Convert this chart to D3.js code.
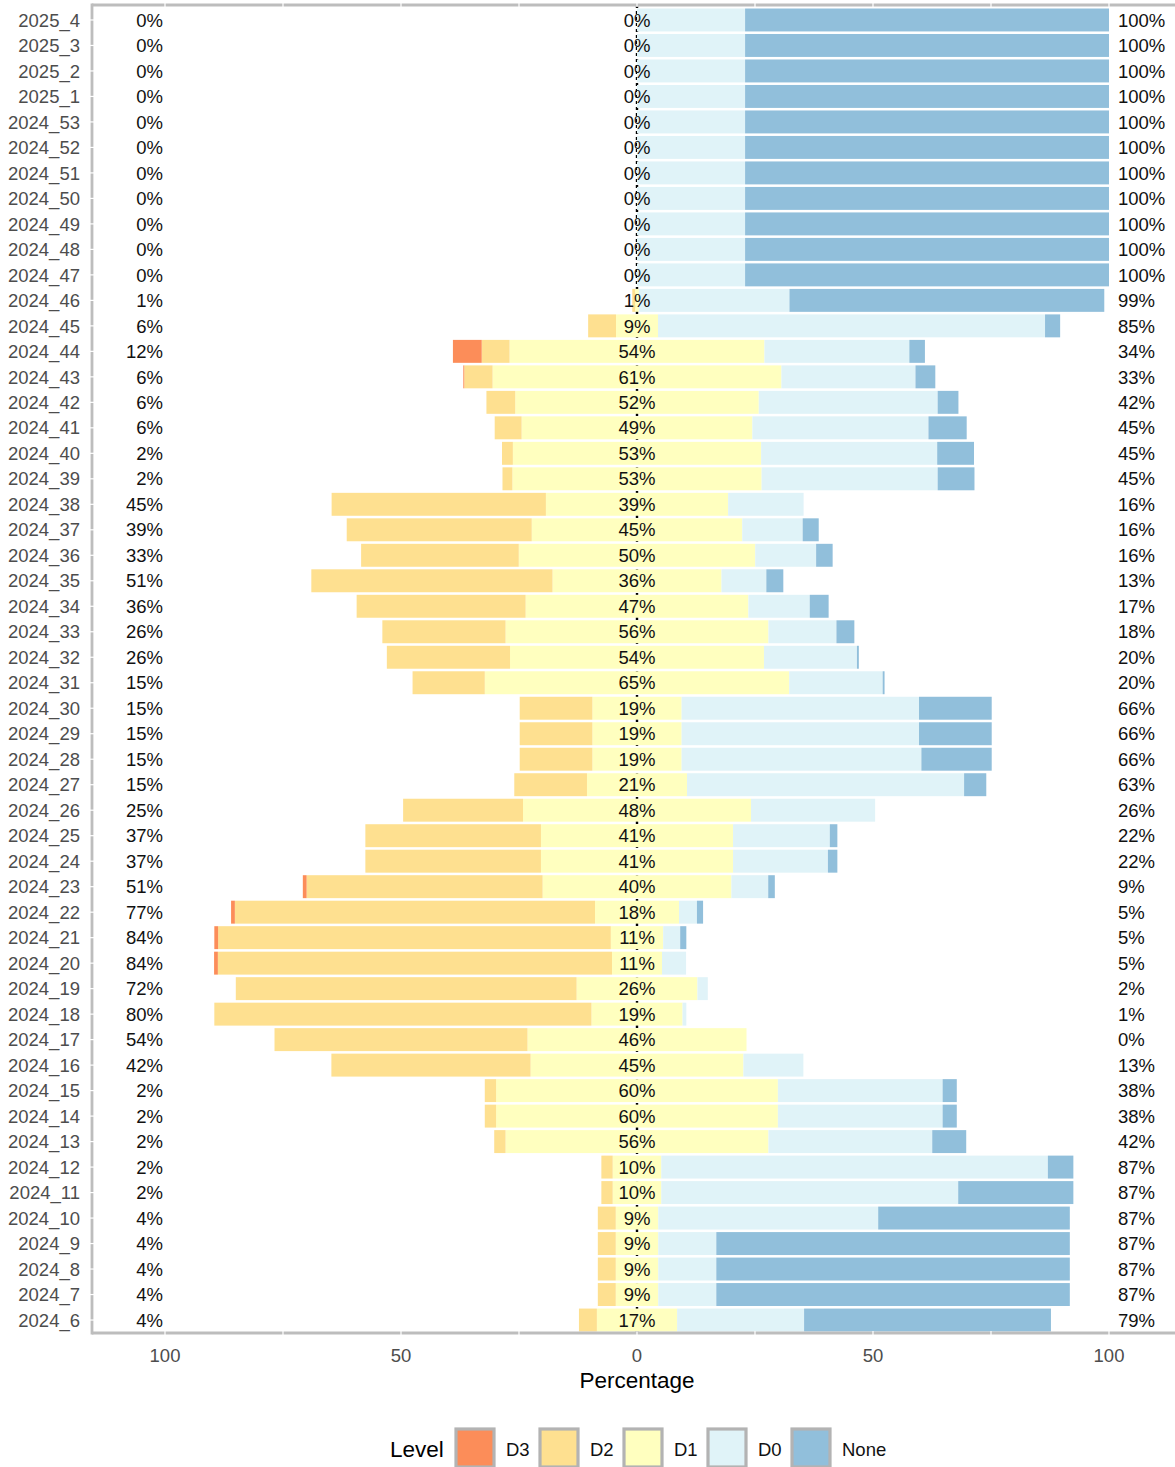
<html>
<head>
<meta charset="utf-8">
<style>
  body { margin: 0; background: #fff; }
  svg text { font-family: "Liberation Sans", Arial, Helvetica, sans-serif; }
</style>
</head>
<body>
<script src="https://cdn.jsdelivr.net/npm/d3@7/dist/d3.min.js"></script>
<svg id="chart" width="1175" height="1467"></svg>
<script>
// weeks, oldest first (drawn with the newest at the top)
var weeks = ["2024_6","2024_7","2024_8","2024_9","2024_10","2024_11","2024_12","2024_13","2024_14","2024_15",
  "2024_16","2024_17","2024_18","2024_19","2024_20","2024_21","2024_22","2024_23","2024_24","2024_25",
  "2024_26","2024_27","2024_28","2024_29","2024_30","2024_31","2024_32","2024_33","2024_34","2024_35",
  "2024_36","2024_37","2024_38","2024_39","2024_40","2024_41","2024_42","2024_43","2024_44","2024_45",
  "2024_46","2024_47","2024_48","2024_49","2024_50","2024_51","2024_52","2024_53",
  "2025_1","2025_2","2025_3","2025_4"];

var levels = ["D3", "D2", "D1", "D0", "None"];
var colors = ["#fc8d59", "#fee090", "#ffffbf", "#e0f3f8", "#91bfdb"];

// percentage of each level per week, same order as weeks
var d3v = [0,0,0,0,0,0,0,0,0,0, 0,0,0,0,0.8,0.8,0.8,0.8,0,0, 0,0,0,0,0,0,0,0,0,0, 0,0,0,0,0,0,0,0.2,6.1,0,
  0,0,0,0,0,0,0,0, 0,0,0,0];
var d2v = [3.8,3.8,3.8,3.8,3.8,2.4,2.4,2.4,2.4,2.4, 42.2,53.6,79.9,72.2,83.5,83.2,76.3,50.0,37.2,37.2,
  25.4,15.4,15.4,15.4,15.4,15.3,26.1,26.1,35.8,51.1, 33.4,39.2,45.4,2.1,2.3,5.7,6.1,6.0,5.9,5.9,
  0.6,0,0,0,0,0,0,0, 0,0,0,0];
var d1v = [17.0,9.0,9.0,9.0,9.0,10.3,10.3,55.7,59.7,59.7, 45.1,46.4,19.3,25.6,10.6,11.1,17.8,40.0,40.7,40.7,
  48.3,21.2,18.9,18.9,18.9,64.5,53.8,55.7,47.2,35.8, 50.1,44.6,38.6,52.8,52.6,48.9,51.6,61.2,54.0,8.9,
  0.8,0,0,0,0,0,0,0, 0,0,0,0];
var d0v = [26.9,12.3,12.3,12.3,46.6,62.9,81.9,34.7,34.9,34.9, 12.7,0,0.8,2.2,5.1,3.6,3.8,7.8,20.1,20.5,
  26.3,58.7,50.8,50.3,50.3,19.8,19.7,14.4,13.0,9.5, 12.9,12.8,16.0,37.3,37.3,37.3,37.9,28.4,30.7,82.0,
  31.9,22.9,22.9,22.9,22.9,22.9,22.9,22.9, 22.9,22.9,22.9,22.9];
var nonev = [52.3,74.9,74.9,74.9,40.6,24.4,5.4,7.2,3.0,3.0, 0,0,0,0,0,1.3,1.3,1.4,2.0,1.6,
  0,4.7,14.9,15.4,15.4,0.4,0.4,3.8,4.0,3.6, 3.5,3.4,0,7.8,7.8,8.1,4.4,4.2,3.3,3.2,
  66.7,77.1,77.1,77.1,77.1,77.1,77.1,77.1, 77.1,77.1,77.1,77.1];

var xTicks = [-100, -50, 0, 50, 100];
var xMinor = [-75, -25, 25, 75];

var svg = d3.select("#chart");
var panel = {left: 92, top: 5, right: 1185, bottom: 1333};

var x = d3.scaleLinear().domain([-100, 100]).range([165, 1109]);
var y = d3.scaleBand().domain(weeks.slice().reverse()).range([8.5, 1331.5]).paddingInner(0.1);

// rows -> segments
var rows = weeks.map(function(w, i) {
  var vals = [d3v[i], d2v[i], d1v[i], d0v[i], nonev[i]];
  var half = vals[2] / 2;
  var segs = [];
  segs.push({lev: 2, x0: -half, x1: half});
  var s = -half;
  segs.push({lev: 1, x0: s - vals[1], x1: s}); s -= vals[1];
  segs.push({lev: 0, x0: s - vals[0], x1: s});
  var e = half;
  segs.push({lev: 3, x0: e, x1: e + vals[3]}); e += vals[3];
  segs.push({lev: 4, x0: e, x1: e + vals[4]});
  return {week: w, segs: segs,
    low: Math.round(vals[0] + vals[1]),
    mid: Math.round(vals[2]),
    high: Math.round(vals[3] + vals[4])};
});

// zero line (sits behind the bars)
svg.append("line")
  .attr("x1", x(0)).attr("x2", x(0))
  .attr("y1", panel.top).attr("y2", panel.bottom)
  .attr("stroke", "#000").attr("stroke-width", 2.4)
  .attr("stroke-dasharray", "3,3");

var g = svg.selectAll("g.row").data(rows).enter().append("g").attr("class", "row");

g.selectAll("rect").data(function(d) { return d.segs.filter(function(s) { return s.x1 - s.x0 > 0; }); })
  .enter().append("rect")
  .attr("x", function(s) { return x(s.x0); })
  .attr("width", function(s) { return x(s.x1) - x(s.x0); })
  .attr("y", function() { return y(d3.select(this.parentNode).datum().week); })
  .attr("height", y.bandwidth())
  .attr("fill", function(s) { return colors[s.lev]; });

var fs = "18.5px";
g.append("text")
  .attr("x", 163).attr("y", function(d) { return y(d.week) + y.bandwidth() / 2; })
  .attr("dy", "0.36em").attr("text-anchor", "end").attr("font-size", fs).attr("fill", "#111")
  .text(function(d) { return d.low + "%"; });
g.append("text")
  .attr("x", x(0)).attr("y", function(d) { return y(d.week) + y.bandwidth() / 2; })
  .attr("dy", "0.36em").attr("text-anchor", "middle").attr("font-size", fs).attr("fill", "#111")
  .text(function(d) { return d.mid + "%"; });
g.append("text")
  .attr("x", 1118).attr("y", function(d) { return y(d.week) + y.bandwidth() / 2; })
  .attr("dy", "0.36em").attr("text-anchor", "start").attr("font-size", fs).attr("fill", "#111")
  .text(function(d) { return d.high + "%"; });

// panel border (top, left, bottom) with white grid breaks
var bc = "#bdbdbd", bw = 2.8;
svg.append("line").attr("x1", panel.left).attr("x2", panel.right).attr("y1", panel.top).attr("y2", panel.top)
  .attr("stroke", bc).attr("stroke-width", bw);
svg.append("line").attr("x1", panel.left).attr("x2", panel.right).attr("y1", panel.bottom).attr("y2", panel.bottom)
  .attr("stroke", bc).attr("stroke-width", bw);
svg.append("line").attr("x1", panel.left).attr("x2", panel.left).attr("y1", panel.top - bw / 2).attr("y2", panel.bottom + bw / 2)
  .attr("stroke", bc).attr("stroke-width", bw);

var breaks = xTicks.concat(xMinor);
[panel.top, panel.bottom].forEach(function(yy) {
  svg.selectAll(null).data(breaks).enter().append("line")
    .attr("x1", function(d) { return x(d); }).attr("x2", function(d) { return x(d); })
    .attr("y1", yy - 2).attr("y2", yy + 2)
    .attr("stroke", "#fff").attr("stroke-width", 1.2);
});
svg.selectAll(null).data(weeks).enter().append("line")
  .attr("x1", panel.left - 2).attr("x2", panel.left + 2)
  .attr("y1", function(d) { return y(d) + y.bandwidth() / 2; })
  .attr("y2", function(d) { return y(d) + y.bandwidth() / 2; })
  .attr("stroke", "#fff").attr("stroke-width", 1.2);

// y labels
svg.selectAll(null).data(weeks).enter().append("text")
  .attr("x", 80).attr("y", function(d) { return y(d) + y.bandwidth() / 2; })
  .attr("dy", "0.36em").attr("text-anchor", "end").attr("font-size", fs).attr("fill", "#4d4d4d")
  .text(function(d) { return d; });

// x labels
svg.selectAll(null).data(xTicks).enter().append("text")
  .attr("x", function(d) { return x(d); }).attr("y", 1355)
  .attr("dy", "0.36em").attr("text-anchor", "middle").attr("font-size", fs).attr("fill", "#4d4d4d")
  .text(function(d) { return Math.abs(d); });

svg.append("text").attr("x", x(0)).attr("y", 1380).attr("dy", "0.36em")
  .attr("text-anchor", "middle").attr("font-size", "22.5px").attr("fill", "#000")
  .text("Percentage");

// legend
var lg = svg.append("g");
lg.append("text").attr("x", 390).attr("y", 1449).attr("dy", "0.36em")
  .attr("font-size", "22.5px").attr("fill", "#000").text("Level");
var items = lg.selectAll("g.item").data(levels).enter().append("g")
  .attr("transform", function(d, i) { return "translate(" + (456 + i * 84) + ",1429)"; });
items.append("rect").attr("x", 0).attr("y", 0).attr("width", 38).attr("height", 38)
  .attr("fill", function(d, i) { return colors[i]; })
  .attr("stroke", "#b3b3b3").attr("stroke-width", 3.2);
items.append("text").attr("x", 50).attr("y", 20).attr("dy", "0.36em")
  .attr("font-size", fs).attr("fill", "#111").text(function(d) { return d; });
</script>
</body>
</html>
